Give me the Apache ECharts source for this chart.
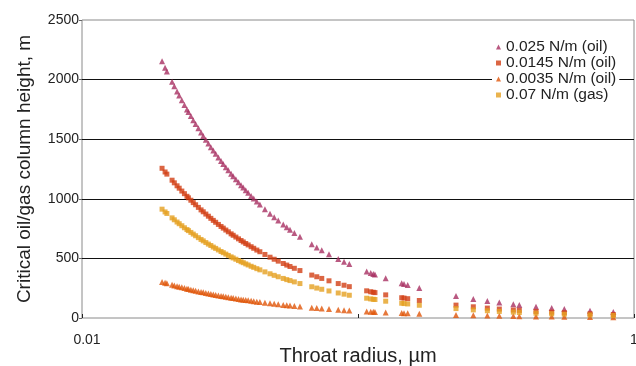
<!DOCTYPE html>
<html><head><meta charset="utf-8">
<script src="https://cdn.jsdelivr.net/npm/echarts@6/dist/echarts.min.js"></script>
<style>html,body{margin:0;padding:0;background:#fff}#c{width:636px;height:366px}</style>
</head><body><div id="c"></div>
<script>
// Throat radius (µm)
var radius = [0.0195,0.0200,0.0203,0.0212,0.0216,0.0221,0.0225,0.0230,0.0235,0.0240,
  0.0243,0.0248,0.0253,0.0258,0.0264,0.0270,0.0275,0.0281,0.0287,0.0293,
  0.0299,0.0305,0.0312,0.0319,0.0325,0.0332,0.0339,0.0347,0.0353,0.0361,
  0.0369,0.0377,0.0384,0.0392,0.0400,0.0410,0.0419,0.0430,0.0441,0.0460,
  0.0480,0.0497,0.0514,0.0536,0.0552,0.0567,0.0588,0.0616,0.0680,0.0709,
  0.0739,0.0785,0.0848,0.0890,0.0930,0.1075,0.1112,0.1136,0.1152,0.1260,
  0.1440,0.1468,0.1514,0.1668,0.2265,0.2617,0.2942,0.3251,0.3654,0.3841,
  0.4415,0.5032,0.5591,0.6929,0.8414];
// Critical column height (m)
var oil025 = [2154,2100,2069,1981,1944,1900,1867,1826,1787,1750,
  1728,1694,1660,1628,1591,1556,1527,1495,1463,1433,
  1405,1377,1346,1317,1292,1265,1239,1210,1190,1163,
  1138,1114,1094,1071,1050,1024,1002,977,952,913,
  875,845,817,784,761,741,714,682,618,592,
  568,535,495,472,452,391,378,370,365,333,
  292,286,277,252,185,160,143,129,115,109,
  95,83,75,61,50];
var oil0145 = [1256,1225,1207,1156,1134,1109,1089,1065,1043,1021,
  1008,988,968,950,928,907,891,872,854,836,
  819,803,785,768,754,738,723,706,694,679,
  664,650,638,625,613,598,585,570,556,533,
  510,493,477,457,444,432,417,398,360,346,
  332,312,289,275,263,228,220,216,213,194,
  170,167,162,147,108,94,83,75,67,64,
  55,49,44,35,29];
var oil0035 = [303,295,291,278,273,267,262,257,251,246,
  243,238,233,229,223,219,215,210,206,201,
  197,193,189,185,182,178,174,170,167,163,
  160,156,154,151,148,144,141,137,134,128,
  123,119,115,110,107,104,100,96,87,83,
  80,75,70,66,63,55,53,52,51,47,
  41,40,39,35,26,23,20,18,16,15,
  13,12,11,9,7];
var gas07 = [913,890,877,840,824,805,791,774,757,742,
  733,718,704,690,674,659,647,633,620,608,
  595,584,571,558,548,536,525,513,504,493,
  482,472,464,454,445,434,425,414,404,387,
  371,358,346,332,322,314,303,289,262,251,
  241,227,210,200,191,166,160,157,155,141,
  124,121,118,107,79,68,61,55,49,46,
  40,35,32,26,21];
var seriesNames = ['0.025 N/m (oil)','0.0145 N/m (oil)','0.0035 N/m (oil)','0.07 N/m (gas)'];
var yTicks = [0,500,1000,1500,2000,2500];

function pairs(ys){ return radius.map(function(r,i){ return [r, ys[i]]; }); }
var FF = '"Liberation Sans", Arial, sans-serif';
var chart = echarts.init(document.getElementById('c'), null, {renderer:'canvas'});
chart.setOption({
  animation:false,
  backgroundColor:'#fff',
  textStyle:{fontFamily:FF},
  grid:{left:82,right:2,top:20,bottom:48,show:true,borderColor:'#8a8a8a',borderWidth:1,backgroundColor:'transparent',
        containLabel:false, outerBoundsMode:'none'},
  legend:{
    orient:'vertical', left:492, top:37, itemWidth:5, itemHeight:5, itemGap:0,
    backgroundColor:'#fff', padding:[2,3,2,4],
    textStyle:{fontFamily:FF,fontSize:15.5,color:'#222',padding:[0,0,0,0]},
    data:seriesNames
  },
  xAxis:{
    type:'log', logBase:10, min:0.01, max:1,
    name:'Throat radius, µm', nameLocation:'middle', nameGap:28, nameMoveOverlap:false,
    nameTextStyle:{fontFamily:FF,fontSize:20,color:'#222',verticalAlign:'top'},
    axisLine:{show:false},
    axisTick:{show:true,inside:true,length:4,lineStyle:{color:'#222'}},
    splitLine:{show:false},
    axisLabel:{
      margin:15, fontFamily:FF, fontSize:14, color:'#222',
      formatter:function(v){
        if (Math.abs(v-0.01)<1e-9) return '{a|0.01}';
        if (Math.abs(v-1)<1e-9) return '{b|1}';
        return '';
      },
      rich:{a:{fontFamily:FF,fontSize:14,color:'#222',padding:[0,0,0,10]},
            b:{fontFamily:FF,fontSize:14,color:'#222',padding:[0,0,14,0]}}
    }
  },
  yAxis:{
    type:'value', min:0, max:2500, interval:500,
    name:'Critical oil/gas column height, m', nameLocation:'middle', nameGap:48, nameMoveOverlap:false,
    nameTextStyle:{fontFamily:FF,fontSize:19,color:'#222'},
    axisLine:{show:false},
    axisTick:{show:true,length:3,lineStyle:{color:'#666'}},
    axisLabel:{margin:3,fontFamily:FF,fontSize:14,color:'#222',
      formatter:function(v){ return yTicks.indexOf(v)>=0 ? String(v) : ''; }},
    splitLine:{show:true,showMinLine:false,showMaxLine:false,lineStyle:{color:'#111',width:1}}
  },
  series:[
    {name:seriesNames[0],type:'scatter',symbol:'triangle',symbolSize:6,itemStyle:{color:'#A82F62'},data:pairs(oil025)},
    {name:seriesNames[1],type:'scatter',symbol:'rect',symbolSize:5,itemStyle:{color:'#D23E14'},data:pairs(oil0145)},
    {name:seriesNames[2],type:'scatter',symbol:'triangle',symbolSize:6,itemStyle:{color:'#E0560A'},data:pairs(oil0035)},
    {name:seriesNames[3],type:'scatter',symbol:'rect',symbolSize:5,itemStyle:{color:'#E5A020'},data:pairs(gas07)}
  ]
});
</script></body></html>
